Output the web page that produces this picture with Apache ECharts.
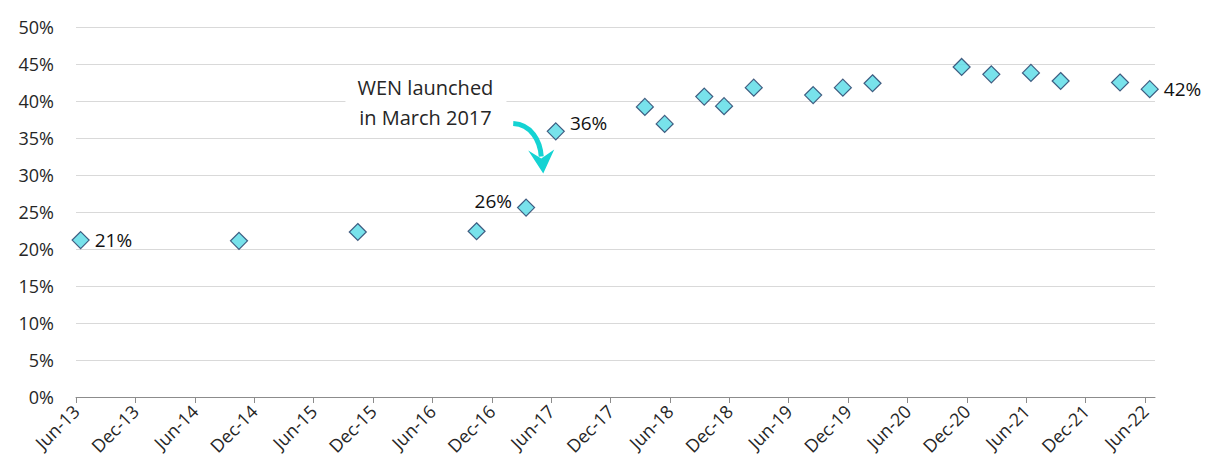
<!DOCTYPE html>
<html>
<head>
<meta charset="utf-8">
<script src="https://cdn.jsdelivr.net/npm/echarts@6/dist/echarts.min.js"></script>
<style>
  html, body { margin: 0; padding: 0; background: #fff; }
  #chart { width: 1206px; height: 472px; }
</style>
</head>
<body>
<div id="chart"></div>
<script>
  // survey dates (mid-month) and share values
  const surveyDates = ['2013-06-15', '2014-10-15', '2015-10-15', '2016-10-15', '2017-03-15',
    '2017-06-15', '2018-03-15', '2018-05-15', '2018-09-15', '2018-11-15',
    '2019-02-15', '2019-08-15', '2019-11-15', '2020-02-15', '2020-11-15',
    '2021-02-15', '2021-06-15', '2021-09-15', '2022-03-15', '2022-06-15']
  const shareValues = [21.2, 21.1, 22.3, 22.4, 25.6, 35.9, 39.2, 36.9, 40.6, 39.3,
    41.8, 40.8, 41.8, 42.4, 44.6, 43.6, 43.8, 42.7, 42.5, 41.6]
  // which points carry a value label, and where
  const labelledPoints = { 0: 'right', 4: 'left', 5: 'right', 19: 'right' }
  const tickLabels = ['Jun-13', 'Dec-13', 'Jun-14', 'Dec-14', 'Jun-15', 'Dec-15', 'Jun-16', 'Dec-16',
    'Jun-17', 'Dec-17', 'Jun-18', 'Dec-18', 'Jun-19', 'Dec-19', 'Jun-20', 'Dec-20',
    'Jun-21', 'Dec-21', 'Jun-22']
  const yTicks = [0, 5, 10, 15, 20, 25, 30, 35, 40, 45, 50]
  const noteLines = ['WEN launched', 'in March 2017']

  const FONT = 'Open Sans'
  const TEXT = '#262626'
  const START = { y: 2013, m: 6 }

  // months since Jun-13
  function toMonths(d) {
    let [y, m, day] = d.split('-').map(Number)
    return (y - START.y) * 12 + (m - START.m) + (day - 1) / 30
  }

  let points = surveyDates.map((d, i) => {
    let item = { value: [toMonths(d), shareValues[i]] }
    let pos = labelledPoints[i]
    if (pos) {
      item.label = {
        show: true,
        position: pos,
        distance: 5,
        color: '#111',
        opacity: 1,
        textBorderWidth: 0,
        fontFamily: FONT,
        fontSize: 19,
        offset: i === 4 ? [0, -7] : (i === 5 ? [0, -8] : [0, 0])
      }
    }
    return item
  })

  let tickValues = tickLabels.map((t, i) => i * 6)

  let myChart = echarts.init(document.getElementById('chart'), null, { renderer: 'svg' })
  myChart.setOption({
    animation: false,
    grid: { left: 76, right: 51, top: 27, bottom: 75 },
    xAxis: {
      type: 'value',
      min: 0,
      max: 109,
      interval: 6,
      splitLine: { show: false },
      axisLine: { show: true, lineStyle: { color: '#8c8c8c', width: 1 } },
      axisTick: { show: true, length: 6, lineStyle: { color: '#8c8c8c' }, customValues: tickValues },
      axisLabel: {
        rotate: 45,
        margin: 11,
        color: TEXT,
        fontFamily: FONT,
        fontSize: 18,
        customValues: tickValues,
        formatter: v => tickLabels[Math.round(v / 6)] || ''
      }
    },
    yAxis: {
      type: 'value',
      min: 0,
      max: 50,
      interval: 5,
      axisLine: { show: false },
      axisTick: { show: false },
      splitLine: { lineStyle: { color: '#d9d9d9', width: 1 } },
      axisLabel: {
        margin: 22,
        color: TEXT,
        fontFamily: FONT,
        fontSize: 18,
        formatter: v => yTicks.indexOf(v) >= 0 ? v + '%' : ''
      }
    },
    series: [{
      type: 'scatter',
      symbol: 'diamond',
      symbolSize: 17,
      itemStyle: { color: '#56dbe6', borderColor: '#1f3864', borderWidth: 1.2 },
      label: {
        show: false,
        formatter: p => Math.round(p.value[1]) + '%'
      },
      emphasis: { disabled: true },
      data: points
    }]
  })

  // annotation box and curved arrow, anchored in data space
  let noteCenter = myChart.convertToPixel({ gridIndex: 0 }, [35.3, 39.8])
  let tip = myChart.convertToPixel({ gridIndex: 0 }, [47.2, 30.2])
  const arrowColor = '#14d3d3'

  myChart.setOption({
    graphic: [
      {
        type: 'rect',
        z: 10,
        shape: { x: noteCenter[0] - 80, y: noteCenter[1] - 28, width: 161, height: 56 },
        style: { fill: '#fff' }
      },
      {
        type: 'text',
        z: 11,
        x: noteCenter[0],
        y: noteCenter[1],
        style: {
          text: noteLines.join('\n'),
          font: '20px "' + FONT + '"',
          fill: TEXT,
          align: 'center',
          verticalAlign: 'middle',
          lineHeight: 30
        }
      },
      {
        type: 'group',
        z: 12,
        x: tip[0],
        y: tip[1],
        children: [
          {
            type: 'bezierCurve',
            shape: { x1: -30, y1: -50, cpx1: -12, cpy1: -49, cpx2: -3, cpy2: -33, x2: -2, y2: -17 },
            style: { stroke: arrowColor, lineWidth: 5, fill: null }
          },
          {
            type: 'polygon',
            shape: { points: [[0, 0], [-15, -23], [-2, -15], [11, -24]] },
            style: { fill: arrowColor }
          }
        ]
      }
    ]
  })
</script>
</body>
</html>
